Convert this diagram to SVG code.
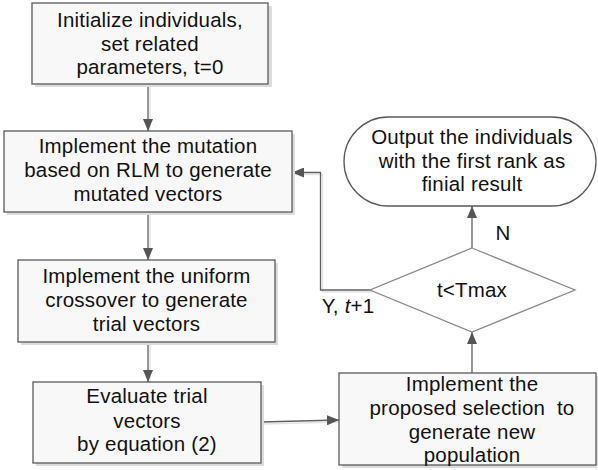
<svg xmlns="http://www.w3.org/2000/svg" width="598" height="470" viewBox="0 0 598 470">
  <defs>
    <style>
      .box { fill: #f8f8f8; stroke: #5a5a5a; stroke-width: 1.3; }
      .shadow { fill: #dcdcdc; stroke: none; }
      .lbl { font-family: "Liberation Sans", Arial, sans-serif; font-size: 20.5px; letter-spacing: 0.2px; fill: #111; text-anchor: middle; }
      .edge { fill: none; stroke: #5f5f5f; stroke-width: 1.3; }
      .edge-shadow { fill: none; stroke: #e4e4e4; stroke-width: 1.5; }
    </style>
    <marker id="arrow" viewBox="0 0 12 10" refX="12" refY="5" markerWidth="12" markerHeight="10" markerUnits="userSpaceOnUse" orient="auto">
      <path d="M0,0 L12,5 L0,10 Z" fill="#555"/>
    </marker>
  </defs>

  <rect width="598" height="470" fill="#ffffff"/>

  <!-- connectors -->
  <g id="connectors">
    <g transform="translate(2,2)">
      <line class="edge-shadow" x1="148" y1="84" x2="148" y2="131"/>
      <line class="edge-shadow" x1="148" y1="212" x2="148" y2="260"/>
      <line class="edge-shadow" x1="148" y1="342" x2="148" y2="382"/>
      <line class="edge-shadow" x1="261" y1="422" x2="339" y2="420"/>
      <polyline class="edge-shadow" points="370,290 320.5,290 320.5,172.5 292,172.5"/>
    </g>
    <line class="edge" x1="148" y1="84" x2="148" y2="131" marker-end="url(#arrow)"/>
    <line class="edge" x1="148" y1="212" x2="148" y2="260" marker-end="url(#arrow)"/>
    <line class="edge" x1="148" y1="342" x2="148" y2="382" marker-end="url(#arrow)"/>
    <line class="edge" x1="261" y1="422" x2="339" y2="420" marker-end="url(#arrow)"/>
    <line class="edge" x1="472" y1="373" x2="472" y2="332" marker-end="url(#arrow)"/>
    <line class="edge" x1="472" y1="248" x2="472" y2="206" marker-end="url(#arrow)"/>
    <polyline class="edge" points="370,290 320.5,290 320.5,172.5 292,172.5" marker-end="url(#arrow)"/>
    <text class="lbl" x="503" y="240">N</text>
    <text class="lbl" x="348" y="313">Y, <tspan font-style="italic">t</tspan>+1</text>
  </g>

  <!-- nodes -->
  <g id="init">
    <rect class="shadow" x="35" y="6" width="237" height="81"/>
    <rect class="box" x="32" y="3" width="236" height="81"/>
    <text class="lbl" x="150" y="27">Initialize individuals,</text>
    <text class="lbl" x="150" y="51">set related</text>
    <text class="lbl" x="150" y="74">parameters, t=0</text>
  </g>

  <g id="mutation">
    <rect class="shadow" x="7" y="134" width="288" height="81"/>
    <rect class="box" x="4" y="131" width="288" height="81"/>
    <text class="lbl" x="148" y="153">Implement the mutation</text>
    <text class="lbl" x="148" y="177">based on RLM to generate</text>
    <text class="lbl" x="148" y="201">mutated vectors</text>
  </g>

  <g id="crossover">
    <rect class="shadow" x="21" y="263" width="257" height="82"/>
    <rect class="box" x="18" y="260" width="257" height="82"/>
    <text class="lbl" x="146.5" y="283">Implement the uniform</text>
    <text class="lbl" x="146.5" y="307">crossover to generate</text>
    <text class="lbl" x="146.5" y="331">trial vectors</text>
  </g>

  <g id="evaluate">
    <rect class="shadow" x="36" y="385" width="228" height="81"/>
    <rect class="box" x="33" y="382" width="228" height="81"/>
    <text class="lbl" x="147" y="403">Evaluate trial</text>
    <text class="lbl" x="147" y="428">vectors</text>
    <text class="lbl" x="147" y="451">by equation (2)</text>
  </g>

  <g id="selection">
    <rect class="shadow" x="342" y="376" width="258" height="92"/>
    <rect class="box" x="339" y="373" width="257" height="92"/>
    <text class="lbl" x="472" y="391">Implement the</text>
    <text class="lbl" x="472" y="415" xml:space="preserve">proposed selection  to</text>
    <text class="lbl" x="472" y="439">generate new</text>
    <text class="lbl" x="472" y="462">population</text>
  </g>

  <g id="decision">
    <polygon class="box" points="472,248 575,290 472,332 370,290" style="fill:#ffffff;stroke:#8a8a8a"/>
    <text class="lbl" x="472" y="297">t&lt;Tmax</text>
  </g>

  <g id="output">
    <rect class="box" x="344" y="117" width="252" height="89" rx="44.5" ry="44.5" style="fill:#ffffff"/>
    <text class="lbl" x="472" y="144">Output the individuals</text>
    <text class="lbl" x="472" y="168">with the first rank as</text>
    <text class="lbl" x="472" y="191">finial result</text>
  </g>
</svg>
